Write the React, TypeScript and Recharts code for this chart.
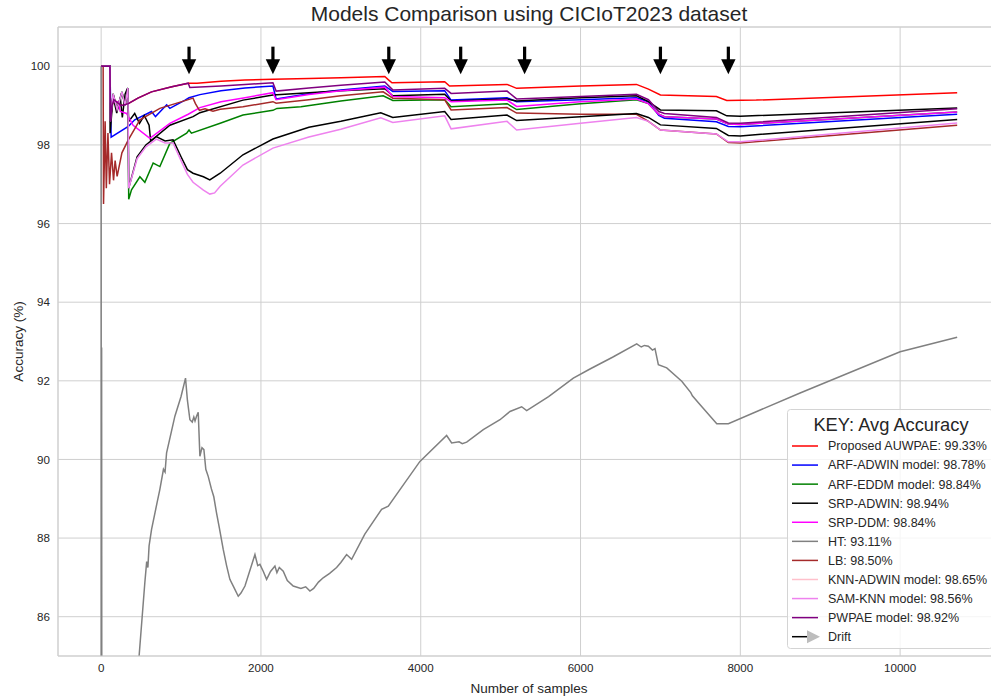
import React from 'react';
import { ComposedChart, Line, XAxis, YAxis, CartesianGrid, ReferenceLine, Legend } from 'recharts';

type Pt = [number, number];

// cumulative accuracy (%) against number of samples seen
const auwpae: Pt[] = [
    [0, 100], [110, 100], [118, 98.6], [135, 99.0], [160, 99.15], [250, 99.0], [340, 99.05], [460, 99.19],
    [630, 99.35], [885, 99.48], [1090, 99.57], [1200, 99.57], [1500, 99.62], [1800, 99.65], [2150, 99.67],
    [2600, 99.69], [3000, 99.71], [3550, 99.74], [3600, 99.65], [3640, 99.58], [4300, 99.61], [4360, 99.5],
    [5080, 99.54], [5200, 99.44], [6000, 99.5], [6700, 99.54], [6850, 99.42], [7000, 99.27], [7700, 99.23],
    [7830, 99.13], [8200, 99.14], [10714, 99.33],
];
const arfAdwin: Pt[] = [
    [0, 100], [110, 100], [125, 98.2], [340, 98.47], [420, 98.64], [630, 98.85], [680, 98.72], [820, 99.02],
    [860, 98.93], [1050, 99.14], [1100, 99.2], [1236, 99.28], [1500, 99.38], [1800, 99.45], [2150, 99.5],
    [2190, 99.17], [2600, 99.3], [3000, 99.4], [3550, 99.5], [3650, 99.36], [4300, 99.38], [4380, 99.14],
    [5080, 99.2], [5200, 99.1], [6000, 99.15], [6700, 99.2], [6850, 99.1], [6980, 98.75], [7050, 98.68],
    [7700, 98.59], [7850, 98.47], [8000, 98.46], [10714, 98.78],
];
const arfEddm: Pt[] = [
    [0, 100], [110, 100], [115, 98.6], [150, 99.3], [200, 98.9], [260, 99.35], [300, 99.0], [335, 99.45],
    [345, 96.62], [380, 96.86], [485, 97.19], [547, 97.05], [651, 97.54], [735, 97.45], [860, 98.04],
    [1070, 98.3], [1100, 98.38], [1130, 98.3], [1490, 98.55], [1775, 98.76], [2150, 98.88], [2200, 98.93],
    [2500, 98.97], [3000, 99.12], [3530, 99.25], [3650, 99.13], [4300, 99.15], [4380, 98.97], [5080, 99.05],
    [5200, 98.9], [6000, 99.05], [6700, 99.15], [6850, 99.05], [6980, 98.78], [7050, 98.72], [7700, 98.66],
    [7850, 98.53], [8000, 98.52], [10714, 98.84],
];
const srpAdwin: Pt[] = [
    [0, 100], [110, 100], [112, 98.3], [150, 99.23], [195, 98.81], [240, 99.2], [265, 98.7], [300, 99.3],
    [330, 99.44], [345, 98.6], [420, 98.8], [480, 98.55], [540, 98.75], [600, 98.5], [620, 98.1], [860, 98.5],
    [1150, 98.72], [1236, 98.82], [1775, 99.14], [2150, 99.27], [2600, 99.33], [3000, 99.38], [3550, 99.43],
    [3650, 99.25], [4300, 99.29], [4380, 99.12], [5080, 99.17], [5200, 99.12], [6000, 99.2], [6700, 99.25],
    [6850, 99.1], [7000, 98.89], [7700, 98.87], [7830, 98.74], [8000, 98.73], [10714, 98.94],
];
const srpDdm: Pt[] = [
    [0, 100], [110, 100], [115, 99.1], [210, 99.1], [240, 98.85], [318, 98.8], [400, 98.5], [610, 98.17],
    [860, 98.55], [1090, 98.78], [1236, 98.95], [1500, 99.1], [1800, 99.2], [2150, 99.33], [2190, 99.15],
    [2600, 99.28], [3000, 99.38], [3550, 99.47], [3650, 99.23], [4300, 99.2], [4380, 99.1], [5080, 99.14],
    [5200, 98.98], [6000, 99.1], [6700, 99.17], [6850, 99.05], [6980, 98.78], [7050, 98.72], [7700, 98.66],
    [7850, 98.53], [8000, 98.52], [10714, 98.84],
];
const ht: Pt[] = [
    [0, 100], [3, 50], [6, 92.85], [9, 80], [15, 70], [60, 62], [150, 68], [250, 74], [350, 79.5], [430, 83.5],
    [475, 85.0], [547, 86.87], [570, 87.4], [585, 87.25], [600, 87.8], [631, 88.22], [700, 88.9], [735, 89.24],
    [780, 89.75], [800, 89.68], [819, 90.17], [923, 91.1], [1000, 91.6], [1056, 92.07], [1080, 91.5],
    [1111, 91.01], [1140, 90.95], [1160, 91.08], [1175, 90.98], [1194, 91.1], [1215, 91.2], [1236, 90.08],
    [1262, 90.3], [1286, 90.25], [1310, 89.75], [1340, 89.57], [1380, 89.25], [1410, 89.05], [1444, 88.64],
    [1480, 88.25], [1528, 87.71], [1570, 87.3], [1611, 86.95], [1660, 86.75], [1716, 86.52], [1750, 86.6],
    [1800, 86.78], [1925, 87.58], [1960, 87.3], [1987, 87.33], [2030, 87.15], [2071, 86.95], [2120, 87.15],
    [2175, 87.29], [2200, 87.12], [2230, 87.25], [2279, 87.16], [2330, 86.92], [2404, 86.78], [2500, 86.72],
    [2560, 86.76], [2613, 86.65], [2660, 86.72], [2720, 86.88], [2779, 86.99], [2860, 87.1], [2947, 87.25],
    [3000, 87.38], [3072, 87.58], [3135, 87.46], [3300, 88.1], [3510, 88.73], [3594, 88.81], [3802, 89.41],
    [3990, 89.95], [4324, 90.61], [4387, 90.42], [4480, 90.45], [4520, 90.4], [4575, 90.44], [4783, 90.76],
    [4992, 91.01], [5117, 91.22], [5263, 91.34], [5326, 91.24], [5600, 91.6], [5910, 92.07], [6118, 92.3],
    [6400, 92.6], [6703, 92.94], [6760, 92.86], [6800, 92.9], [6849, 92.88], [6900, 92.78], [6932, 92.82],
    [6974, 92.41], [7079, 92.33], [7267, 91.99], [7380, 91.7], [7400, 91.62], [7475, 91.44], [7705, 90.91],
    [7850, 90.91], [8748, 91.69], [10000, 92.74], [10714, 93.11],
];
const lb: Pt[] = [
    [0, 100], [25, 100], [30, 96.5], [50, 98.6], [65, 96.9], [85, 98.3], [105, 97.0], [130, 97.8], [155, 97.1],
    [175, 97.6], [200, 97.2], [260, 97.8], [340, 98.13], [485, 98.64], [735, 98.93], [1070, 99.14],
    [1150, 99.19], [1180, 99.05], [1230, 98.88], [1300, 98.92], [1400, 98.86], [1490, 98.91], [1775, 98.97],
    [2150, 99.1], [2190, 99.06], [2600, 99.15], [3000, 99.25], [3530, 99.35], [3650, 99.19], [4300, 99.15],
    [4380, 98.89], [5080, 98.95], [5200, 98.81], [6000, 98.78], [6700, 98.78], [6850, 98.6], [7000, 98.38],
    [7700, 98.28], [7850, 98.06], [8000, 98.05], [10714, 98.5],
];
const knnAdwin: Pt[] = [
    [0, 100], [110, 100], [115, 98.6], [150, 99.3], [200, 98.9], [260, 99.35], [300, 99.0], [335, 99.45],
    [345, 96.9], [450, 97.7], [560, 98.0], [690, 98.21], [800, 98.1], [900, 98.13], [1000, 97.7], [1080, 97.37],
    [1150, 97.28], [1280, 97.19], [1360, 97.11], [1490, 97.28], [1775, 97.75], [2150, 98.15], [2600, 98.45],
    [3000, 98.6], [3500, 98.82], [3650, 98.7], [4300, 98.85], [4380, 98.65], [5080, 98.76], [5200, 98.62],
    [6000, 98.72], [6700, 98.8], [6850, 98.7], [7000, 98.51], [7700, 98.42], [7850, 98.24], [8000, 98.23],
    [10714, 98.65],
];
const samKnn: Pt[] = [
    [0, 100], [110, 100], [115, 98.6], [150, 99.3], [200, 98.9], [260, 99.35], [300, 99.0], [335, 99.45],
    [345, 96.9], [450, 97.65], [560, 97.95], [690, 98.15], [800, 98.05], [900, 98.05], [1000, 97.6],
    [1080, 97.25], [1150, 97.05], [1280, 96.85], [1360, 96.75], [1420, 96.78], [1490, 96.95], [1775, 97.49],
    [2150, 97.92], [2600, 98.2], [3000, 98.4], [3500, 98.69], [3650, 98.57], [4300, 98.74], [4380, 98.41],
    [5080, 98.6], [5200, 98.38], [6000, 98.55], [6700, 98.7], [6850, 98.6], [7000, 98.38], [7700, 98.28],
    [7850, 98.08], [8000, 98.08], [10714, 98.56],
];
const pwpae: Pt[] = [
    [0, 100], [110, 100], [118, 98.6], [135, 99.0], [160, 99.15], [250, 99.0], [340, 99.05], [460, 99.19],
    [630, 99.35], [885, 99.48], [1090, 99.57], [1110, 99.46], [1500, 99.5], [1800, 99.54], [2150, 99.58],
    [2190, 99.37], [2600, 99.45], [3000, 99.52], [3550, 99.6], [3650, 99.4], [4300, 99.44], [4380, 99.31],
    [5080, 99.37], [5200, 99.17], [6000, 99.23], [6700, 99.29], [6850, 99.15], [6980, 98.85], [7050, 98.8],
    [7700, 98.7], [7850, 98.56], [8000, 98.55], [10714, 98.92],
];

// samples where a drift was detected, arrow runs from top to tip
const driftSamples = [1100, 2150, 3600, 4500, 5300, 7000, 7850];
const driftTop = 100.5;
const driftTip = 99.8;

const xTicks = [0, 2000, 4000, 6000, 8000, 10000];
const yTicks = [86, 88, 90, 92, 94, 96, 98, 100];

// line colour and legend swatch colour (KNN-ADWIN is plotted black but keyed pink)
const models = [
    { name: 'Proposed AUWPAE', points: auwpae, color: '#ff0000', key: '#ff0000' },
    { name: 'ARF-ADWIN model', points: arfAdwin, color: '#0000ff', key: '#0000ff' },
    { name: 'ARF-EDDM model', points: arfEddm, color: '#008000', key: '#008000' },
    { name: 'SRP-ADWIN', points: srpAdwin, color: '#000000', key: '#000000' },
    { name: 'SRP-DDM', points: srpDdm, color: '#ff00ff', key: '#ff00ff' },
    { name: 'HT', points: ht, color: '#808080', key: '#808080' },
    { name: 'LB', points: lb, color: '#a52a2a', key: '#a52a2a' },
    { name: 'KNN-ADWIN model', points: knnAdwin, color: '#000000', key: '#ffc0cb' },
    { name: 'SAM-KNN model', points: samKnn, color: '#ee82ee', key: '#ee82ee' },
    { name: 'PWPAE model', points: pwpae, color: '#800080', key: '#800080' },
];

const FONT = '"Liberation Sans", Arial, Helvetica, sans-serif';
const TEXT = '#262626';
const GRID = '#cfcfcf';

const DriftArrow = (props: any) => {
    const { x1, y1, y2 } = props;
    const head = 15;
    return (
        <g>
            <rect x={x1 - 1.6} y={y1} width={3.2} height={y2 - y1 - head + 1} fill="#000" />
            <polygon points={`${x1 - 7.2},${y2 - head} ${x1 + 7.2},${y2 - head} ${x1},${y2}`} fill="#000" />
        </g>
    );
};

const KeyBox = () => {
    const rowY = (i: number) => 37 + i * 19.07;
    return (
        <svg width={206} height={241} style={{ display: 'block', fontFamily: FONT }}>
            <rect x={0.5} y={0.5} width={205} height={239} rx={3} fill="#ffffff" fillOpacity={0.8} stroke="#d4d4d4" />
            <text x={104} y={21.5} textAnchor="middle" fontSize={18.3} fill={TEXT}>KEY: Avg Accuracy</text>
            {models.map((m, i) => {
                const last = m.points[m.points.length - 1][1];
                return (
                    <g key={m.name}>
                        <line x1={5} x2={31} y1={rowY(i)} y2={rowY(i)} stroke={m.key} strokeWidth={1.5} />
                        <text x={41} y={rowY(i)} dy="0.35em" fontSize={12.5} fill={TEXT}>
                            {`${m.name}: ${last.toFixed(2)}%`}
                        </text>
                    </g>
                );
            })}
            <g>
                <line x1={5} x2={24} y1={rowY(10)} y2={rowY(10)} stroke="#000" strokeWidth={1.5} />
                <polygon points={`20,${rowY(10) - 6.5} 20,${rowY(10) + 6.5} 33,${rowY(10)}`} fill="#bdbdbd" />
                <text x={41} y={rowY(10)} dy="0.35em" fontSize={12.5} fill={TEXT}>Drift</text>
            </g>
        </svg>
    );
};

export default function App() {
    return (
        <div style={{ position: 'fixed', left: 0, top: 0, width: 991, height: 698, overflow: 'hidden', background: '#fff', fontFamily: FONT }}>
            <div style={{ position: 'absolute', left: 58, top: 0, width: 942, textAlign: 'center', fontSize: 21, lineHeight: '28px', color: TEXT }}>
                Models Comparison using CICIoT2023 dataset
            </div>
            <ComposedChart width={1000} height={698} margin={{ top: 27, right: 0, bottom: 12, left: 0 }}>
                <CartesianGrid stroke={GRID} strokeWidth={1} />
                <XAxis
                    dataKey="x"
                    type="number"
                    domain={[-540, 11250]}
                    allowDataOverflow
                    ticks={xTicks}
                    height={30}
                    tickLine={false}
                    axisLine={{ stroke: GRID }}
                    tick={{ fontSize: 11.6, fill: TEXT, fontFamily: FONT }}
                    label={{ value: 'Number of samples', position: 'insideBottom', offset: -7, fontSize: 13.5, fill: TEXT, fontFamily: FONT }}
                />
                <YAxis
                    type="number"
                    domain={[85, 101]}
                    allowDataOverflow
                    ticks={yTicks}
                    width={58}
                    tickLine={false}
                    axisLine={{ stroke: GRID }}
                    tick={{ fontSize: 11.6, fill: TEXT, fontFamily: FONT }}
                    label={{ value: 'Accuracy (%)', angle: -90, position: 'insideLeft', offset: 18, fontSize: 13.5, fill: TEXT, fontFamily: FONT, style: { textAnchor: 'middle' } }}
                />
                <ReferenceLine y={101} stroke={GRID} />
                {models.map((m) => (
                    <Line
                        key={m.name}
                        data={m.points.map(([x, y]) => ({ x, y }))}
                        dataKey="y"
                        name={m.name}
                        type="linear"
                        stroke={m.color}
                        strokeWidth={1.5}
                        dot={false}
                        activeDot={false}
                        isAnimationActive={false}
                    />
                ))}
                {driftSamples.map((d) => (
                    <ReferenceLine
                        key={d}
                        segment={[{ x: d, y: driftTop }, { x: d, y: driftTip }]}
                        shape={DriftArrow}
                    />
                ))}
                <Legend
                    layout="vertical"
                    align="center"
                    verticalAlign="middle"
                    content={() => <KeyBox />}
                    wrapperStyle={{ left: 787, top: 409, width: 206, height: 241, bottom: 'auto', right: 'auto' }}
                />
            </ComposedChart>
        </div>
    );
}
